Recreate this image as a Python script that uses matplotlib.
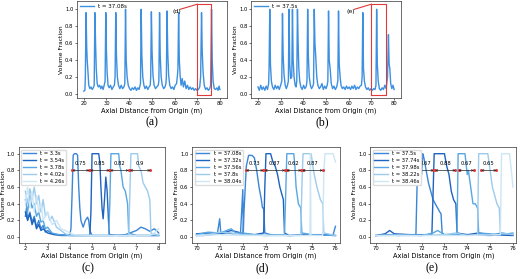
import matplotlib
matplotlib.use("Agg")
import matplotlib.pyplot as plt
import numpy as np

# ---------- top row: full pipe snapshots ----------
a_x = [20.0, 20.5, 20.7, 21.0, 21.3, 21.5, 21.8, 22.2, 22.7, 23.2, 23.7, 24.2,
       24.6, 24.9, 25.2, 25.5, 25.9, 26.4, 27.0, 27.5, 28.0, 28.5, 29.0,
       29.4, 29.7, 30.0, 30.3, 30.7, 31.2, 31.8, 32.4, 33.0, 33.5,
       33.8, 34.1, 34.4, 34.8, 35.3, 35.9, 36.5, 37.1, 37.7,
       38.1, 38.4, 38.7, 39.1, 39.6, 40.2, 40.8, 41.4, 42.0, 42.6, 43.2, 43.8, 44.4,
       45.0, 45.3, 45.6, 46.0, 46.5, 47.0, 47.6, 48.2, 48.8, 49.3,
       49.5, 49.8, 50.1, 50.5, 51.0, 51.6, 52.2, 52.8,
       53.1, 53.4, 53.7, 54.1, 54.6, 55.2, 55.8, 56.2,
       56.4, 56.7, 57.0, 57.4, 57.9, 58.5, 59.1, 59.7, 60.3, 60.9, 61.3,
       61.5, 61.8, 62.1, 62.5, 62.9, 63.4, 63.9, 64.5, 65.1, 65.7, 66.3, 66.9,
       67.5, 68.1, 68.7, 69.3, 69.9, 70.5, 71.1, 71.5,
       71.9, 72.2, 72.6, 73.1, 73.7, 74.3, 74.9, 75.5, 75.9,
       76.3, 76.6, 77.0, 77.5, 78.1, 78.7, 79.2, 79.6, 80.0]
a_y = [0.03, 0.04, 0.20, 0.96, 0.55, 0.40, 0.28, 0.10, 0.06, 0.08, 0.05, 0.07,
       0.10, 0.96, 0.60, 0.30, 0.12, 0.08, 0.10, 0.06, 0.09, 0.05, 0.10,
       0.15, 0.96, 0.50, 0.25, 0.10, 0.07, 0.10, 0.05, 0.08, 0.10,
       0.20, 0.96, 0.45, 0.20, 0.10, 0.06, 0.10, 0.06, 0.08,
       0.12, 1.00, 0.40, 0.20, 0.10, 0.06, 0.04, 0.07, 0.05, 0.08, 0.04, 0.07, 0.05,
       0.12, 1.00, 0.45, 0.20, 0.10, 0.06, 0.09, 0.05, 0.08, 0.10,
       0.20, 0.97, 0.50, 0.22, 0.10, 0.06, 0.08, 0.10,
       0.15, 0.96, 0.45, 0.20, 0.10, 0.06, 0.08, 0.12,
       0.20, 0.98, 0.50, 0.22, 0.10, 0.06, 0.08, 0.05, 0.10, 0.12, 0.22,
       0.30, 0.96, 0.40, 0.20, 0.10, 0.18, 0.08, 0.15, 0.06, 0.10, 0.05, 0.08,
       0.05, 0.07, 0.04, 0.06, 0.04, 0.05, 0.08, 0.20,
       0.96, 0.50, 0.25, 0.10, 0.05, 0.07, 0.04, 0.06, 0.10,
       1.00, 0.40, 0.15, 0.06, 0.05, 0.07, 0.04, 0.09, 0.05]

b_x = [20.0, 20.6, 21.2, 21.8, 22.4, 23.0, 23.6, 24.2, 24.7,
       24.9, 25.2, 25.5, 25.9, 26.4, 27.0, 27.6, 28.2, 28.8, 29.4, 30.0, 30.5,
       30.8, 31.1, 31.5, 32.0, 32.5, 33.0, 33.4,
       33.7, 34.0, 34.4, 34.9,
       35.2, 35.5, 35.9, 36.4, 36.8, 37.1,
       37.4, 37.7, 38.0, 38.4, 38.9, 39.5, 40.1, 40.7, 41.3, 41.6,
       41.9, 42.2, 42.6, 43.1, 43.6, 44.2, 44.5,
       44.8, 45.1, 45.5, 45.9, 46.4, 47.0, 47.6, 48.2, 48.8, 49.4, 50.0, 50.5, 50.8,
       51.1, 51.4, 51.8, 52.3, 52.9, 53.5, 54.1, 54.7, 55.2,
       55.5, 55.8, 56.2, 56.6, 57.2, 57.8, 58.4, 59.0, 59.6, 60.2, 60.8, 61.4,
       62.0, 62.6, 63.2, 63.8, 64.4, 65.0, 65.6, 65.9,
       66.2, 66.5, 66.9, 67.4, 68.0, 68.6, 69.2, 69.8, 70.4, 71.0, 71.6, 72.0,
       72.3, 72.6, 73.0, 73.5, 74.1, 74.7, 75.3, 75.9, 76.5, 77.1,
       77.5, 77.8, 78.1, 78.5, 79.0, 79.5, 80.0]
b_y = [0.08, 0.04, 0.10, 0.05, 0.08, 0.04, 0.09, 0.05, 0.12,
       0.30, 1.00, 0.35, 0.15, 0.08, 0.05, 0.10, 0.06, 0.09, 0.05, 0.10, 0.15,
       0.95, 0.45, 0.22, 0.10, 0.06, 0.10, 0.15,
       1.00, 0.35, 0.18, 0.20,
       1.00, 0.40, 0.20, 0.10, 0.08, 0.15,
       1.00, 0.60, 0.30, 0.15, 0.08, 0.05, 0.10, 0.06, 0.09, 0.15,
       1.00, 0.45, 0.20, 0.10, 0.06, 0.09, 0.12,
       1.00, 0.60, 0.42, 0.20, 0.10, 0.06, 0.08, 0.12, 0.05, 0.09, 0.06, 0.10, 0.15,
       0.98, 0.40, 0.30, 0.12, 0.06, 0.09, 0.05, 0.08, 0.15,
       0.98, 0.35, 0.20, 0.10, 0.06, 0.08, 0.05, 0.09, 0.06, 0.08, 0.05, 0.09,
       0.06, 0.10, 0.05, 0.08, 0.06, 0.09, 0.10, 0.20,
       0.96, 0.30, 0.15, 0.08, 0.05, 0.07, 0.04, 0.06, 0.04, 0.06, 0.05, 0.10,
       1.00, 0.35, 0.15, 0.06, 0.04, 0.07, 0.05, 0.10, 0.06, 0.20,
       0.70, 0.35, 0.30, 0.12, 0.06, 0.10, 0.05]

# ---------- panel (c) ----------
c_labels = ["t = 3.3s", "t = 3.54s", "t = 3.78s", "t = 4.02s", "t = 4.26s"]
c1_x = [2.0, 2.05, 2.1, 2.2, 2.3, 2.4, 2.5, 2.6, 2.7, 2.8, 2.9, 3.0, 3.2, 3.5, 3.8, 4.0,
        4.05, 4.1, 4.15, 4.2, 4.3, 4.35, 4.4, 4.45, 4.5, 4.6, 4.7, 4.8, 4.85, 4.9, 5.0,
        5.5, 6.0, 6.5, 6.8, 7.0, 7.2, 7.4, 7.6, 7.8, 7.9, 8.0]
c1_y = [0.25, 0.35, 0.22, 0.30, 0.18, 0.25, 0.12, 0.20, 0.10, 0.14, 0.06, 0.08, 0.04, 0.03, 0.03, 0.03,
        0.10, 0.50, 0.98, 1.00, 1.00, 0.98, 0.60, 0.35, 0.20, 0.12, 0.20, 0.24, 0.20, 0.08, 0.02,
        0.02, 0.02, 0.03, 0.06, 0.08, 0.12, 0.10, 0.07, 0.10, 0.08, 0.05]
c2_x = [2.0, 2.1, 2.2, 2.3, 2.4, 2.5, 2.6, 2.7, 2.8, 3.0, 3.3, 3.6, 4.0, 4.5, 4.9,
        4.95, 5.0, 5.3, 5.35, 5.4, 5.45, 5.5, 5.56, 5.62, 5.68, 5.74, 5.78, 6.2, 7.0, 8.0]
c2_y = [0.30, 0.20, 0.28, 0.15, 0.22, 0.10, 0.15, 0.08, 0.10, 0.05, 0.03, 0.02, 0.02, 0.02, 0.02,
        0.30, 1.00, 1.00, 0.90, 0.60, 0.35, 0.22, 0.45, 0.72, 0.55, 0.20, 0.03, 0.02, 0.02, 0.02]
c3_x = [2.0, 2.1, 2.2, 2.3, 2.4, 2.5, 2.6, 2.7, 2.8, 2.9, 3.0, 3.2, 3.5, 4.0, 5.0, 5.75,
        5.8, 5.85, 6.2, 6.25, 6.3, 6.4, 6.5, 6.6, 6.65, 7.0, 8.0]
c3_y = [0.45, 0.30, 0.50, 0.35, 0.40, 0.25, 0.30, 0.18, 0.20, 0.10, 0.12, 0.05, 0.03, 0.02, 0.02, 0.02,
        0.40, 1.00, 1.00, 0.85, 0.80, 0.60, 0.55, 0.40, 0.05, 0.02, 0.02]
c4_x = [2.0, 2.1, 2.2, 2.3, 2.4, 2.5, 2.6, 2.7, 2.8, 2.9, 3.0, 3.1, 3.2, 3.4, 3.6, 3.8, 4.0, 5.0, 6.65,
        6.7, 6.75, 7.05, 7.1, 7.2, 7.3, 7.4, 7.5, 7.6, 7.65, 8.0]
c4_y = [0.55, 0.40, 0.58, 0.45, 0.60, 0.40, 0.50, 0.30, 0.45, 0.25, 0.30, 0.20, 0.25, 0.12, 0.08, 0.04, 0.02, 0.02, 0.02,
        0.50, 1.00, 1.00, 0.85, 0.80, 0.65, 0.60, 0.55, 0.45, 0.05, 0.02]
c5_x = [2.0, 2.1, 2.2, 2.3, 2.4, 2.5, 2.6, 2.7, 2.8, 3.0, 3.2, 3.4, 3.6, 3.8, 4.0, 4.2, 5.0, 7.6, 7.8, 8.0]
c5_y = [0.40, 0.60, 0.35, 0.55, 0.30, 0.50, 0.30, 0.40, 0.20, 0.30, 0.15, 0.20, 0.10, 0.08, 0.05, 0.03, 0.02, 0.02, 0.05, 0.10]
c_starts = [4.12, 4.93, 5.83, 6.72]
c_ends = [4.87, 5.78, 6.65, 7.62]
c_lens = ["0.75", "0.85", "0.82", "0.9"]

# ---------- panel (d) ----------
d_labels = ["t = 37.08s", "t = 37.32s", "t = 37.56s", "t = 37.8s", "t = 38.04s"]
d1_x = [70.0, 70.3, 70.6, 70.9, 71.0, 71.05, 71.3, 71.6, 71.9, 72.0, 72.02, 72.05, 72.15, 72.25,
        72.4, 72.5, 72.6, 72.7, 72.8, 72.85, 72.9, 72.95, 73.2, 74.0, 75.0, 75.9, 76.0]
d1_y = [0.02, 0.02, 0.03, 0.04, 0.22, 0.04, 0.05, 0.04, 0.05, 0.57, 0.05, 0.30, 0.85, 0.98,
        0.98, 0.95, 0.80, 0.60, 0.45, 0.35, 0.35, 0.05, 0.03, 0.02, 0.03, 0.03, 0.13]
d2_x = [70.0, 70.5, 71.0, 71.5, 71.8, 72.0, 72.5, 72.9, 72.95, 73.0, 73.2, 73.3, 73.4, 73.5,
        73.6, 73.7, 73.75, 73.8, 74.0, 75.0, 76.0]
d2_y = [0.04, 0.05, 0.04, 0.08, 0.06, 0.04, 0.03, 0.05, 0.60, 1.00, 1.00, 0.90, 0.85, 0.75,
        0.60, 0.50, 0.45, 0.05, 0.02, 0.03, 0.02]
d3_x = [70.0, 70.5, 71.0, 71.5, 71.7, 72.0, 72.5, 73.0, 73.8, 73.85, 73.9, 74.2, 74.25, 74.3,
        74.4, 74.5, 74.55, 75.0, 76.0]
d3_y = [0.03, 0.06, 0.05, 0.10, 0.05, 0.05, 0.03, 0.02, 0.03, 0.50, 1.00, 1.00, 0.85, 0.60,
        0.40, 0.35, 0.05, 0.03, 0.02]
d4_x = [70.0, 70.5, 71.0, 71.5, 72.0, 73.0, 74.0, 74.5, 74.55, 74.6, 74.95, 75.05, 75.2, 75.35,
        75.45, 75.5, 76.0]
d4_y = [0.02, 0.03, 0.06, 0.05, 0.03, 0.02, 0.02, 0.02, 0.60, 1.00, 1.00, 0.80, 0.60, 0.45,
        0.40, 0.05, 0.02]
d5_x = [70.0, 71.0, 72.0, 73.0, 74.0, 74.9, 74.92, 74.94, 75.45, 75.5, 75.55, 75.9, 76.0]
d5_y = [0.02, 0.03, 0.02, 0.02, 0.02, 0.02, 1.00, 0.02, 0.02, 0.80, 1.00, 1.00, 0.90]
d_starts = [72.15, 72.95, 73.90, 74.58]
d_ends = [72.88, 73.82, 74.52, 75.45]
d_lens = ["0.73", "0.87", "0.62", "0.87"]

# ---------- panel (e) ----------
e_labels = ["t = 37.5s", "t = 37.74s", "t = 37.98s", "t = 38.22s", "t = 38.46s"]
e1_x = [70.0, 70.5, 71.0, 71.5, 71.75, 71.8, 71.85, 71.95, 72.0, 72.05, 72.1, 72.2, 72.3, 72.4,
        72.5, 72.6, 72.7, 72.8, 72.85, 72.9, 73.0, 74.0, 75.0, 75.5, 76.0]
e1_y = [0.02, 0.03, 0.02, 0.03, 0.03, 0.60, 1.00, 1.00, 0.75, 1.00, 0.95, 0.80, 0.65, 0.55,
        0.45, 0.40, 0.35, 0.30, 0.28, 0.05, 0.03, 0.03, 0.02, 0.05, 0.03]
e2_x = [70.0, 70.4, 70.6, 70.8, 71.5, 72.0, 72.45, 72.5, 72.55, 73.0, 73.1, 73.2, 73.3, 73.4,
        73.5, 73.55, 74.0, 74.5, 75.0, 76.0]
e2_y = [0.02, 0.04, 0.08, 0.04, 0.03, 0.03, 0.03, 0.50, 1.00, 1.00, 0.85, 0.75, 0.55, 0.45,
        0.40, 0.05, 0.03, 0.05, 0.03, 0.02]
e3_x = [70.0, 71.0, 72.0, 72.5, 72.7, 73.0, 73.55, 73.6, 73.9, 74.0, 74.05, 74.15, 74.25, 74.35,
        74.45, 74.5, 75.0, 75.5, 76.0]
e3_y = [0.02, 0.03, 0.02, 0.05, 0.08, 0.03, 0.03, 1.00, 1.00, 0.75, 0.80, 0.60, 0.40, 0.40,
        0.35, 0.05, 0.04, 0.03, 0.05]
e4_x = [70.0, 71.0, 72.0, 73.0, 73.5, 74.0, 74.45, 74.5, 74.9, 75.0, 75.1, 75.2, 75.3, 75.4,
        75.45, 76.0]
e4_y = [0.02, 0.02, 0.02, 0.03, 0.05, 0.02, 0.03, 1.00, 1.00, 0.80, 0.60, 0.50, 0.40, 0.35,
        0.05, 0.03]
e5_x = [70.0, 72.0, 74.0, 75.45, 75.5, 75.85, 75.95, 76.0]
e5_y = [0.02, 0.02, 0.02, 0.03, 1.00, 1.00, 0.75, 0.60]
e_starts = [71.85, 72.60, 73.62, 74.62]
e_ends = [72.52, 73.48, 74.29, 75.27]
e_lens = ["0.67", "0.88", "0.67", "0.65"]

shades = ["#3a86d8", "#1f63c0", "#58a6e2", "#9ccbed", "#cde6f6"]
top_blue = "#3d8fe0"
red = "#e03a3a"

plt.rcParams["font.family"] = "DejaVu Sans"
fig = plt.figure(figsize=(5.2, 2.79), dpi=100)


def style(ax, xlim, ylim):
    ax.set_xlim(*xlim)
    ax.set_ylim(*ylim)
    ax.tick_params(labelsize=3.8, length=1.5, width=0.4, pad=1)
    for s in ax.spines.values():
        s.set_linewidth(0.5)
        s.set_color("#333333")
    ax.set_xlabel("Axial Distance from Origin (m)", fontsize=4.8, labelpad=1)
    ax.set_ylabel("Volume Fraction", fontsize=4.3, labelpad=0.8)
    ax.set_yticks([0.0, 0.2, 0.4, 0.6, 0.8, 1.0])


def top_panel(rect, xs, ys, lab, tag, box_x, tag_x):
    ax = fig.add_axes(rect)
    ax.plot(xs, ys, color=top_blue, lw=1.0, label=lab)
    style(ax, (17, 83), (-0.05, 1.1))
    ax.set_xticks([20, 30, 40, 50, 60, 70, 80])
    ax.legend(loc="upper left", fontsize=4, frameon=False, handlelength=2.5,
              borderpad=0.2, borderaxespad=0.3)
    ax.plot([box_x[0], box_x[0], box_x[1], box_x[1], box_x[0]],
            [-0.02, 1.06, 1.06, -0.02, -0.02], color=red, lw=0.8)
    ax.text(tag_x, 0.97, tag, fontsize=4.5, ha="center", va="center")
    ax.plot([tag_x + 1.5, box_x[0]], [1.0, 1.06], color=red, lw=0.8)
    return ax


def bottom_panel(rect, series, labels, xlim, xticks, starts, ends, lens):
    ax = fig.add_axes(rect)
    for (xs, ys), lab, col in zip(series, labels, shades):
        ax.plot(xs, ys, color=col, lw=1.0, label=lab)
    style(ax, xlim, (-0.07, 1.08))
    ax.set_xticks(xticks)
    for s, e, t in zip(starts, ends, lens):
        ax.annotate("", xy=(e, 0.8), xytext=(s, 0.8),
                    arrowprops=dict(arrowstyle="<->", color="#222222", lw=0.5,
                                    mutation_scale=3, shrinkA=0, shrinkB=0))
        ax.plot([s, e], [0.8, 0.8], "o", color=red, ms=2.2, mew=0)
        ax.text((s + e) / 2, 0.855, t, fontsize=3.8, ha="center", va="bottom")
    ax.legend(loc="upper left", fontsize=3.8, handlelength=2.5, borderpad=0.3,
              labelspacing=0.35, framealpha=1, edgecolor="#dddddd")
    return ax


top_panel([0.148, 0.649, 0.288, 0.348], a_x, a_y, "t = 37.08s", "(d)", (70, 76), 61)
top_panel([0.483, 0.649, 0.288, 0.348], b_x, b_y, "t = 37.5s", "(e)", (70, 76.5), 61)

bottom_panel([0.036, 0.129, 0.282, 0.344],
             [(c1_x, c1_y), (c2_x, c2_y), (c3_x, c3_y), (c4_x, c4_y), (c5_x, c5_y)],
             c_labels, (1.7, 8.3), [2, 3, 4, 5, 6, 7, 8], c_starts, c_ends, c_lens)
bottom_panel([0.369, 0.129, 0.285, 0.344],
             [(d1_x, d1_y), (d2_x, d2_y), (d3_x, d3_y), (d4_x, d4_y), (d5_x, d5_y)],
             d_labels, (69.8, 76.2), [70, 71, 72, 73, 74, 75, 76], d_starts, d_ends, d_lens)
bottom_panel([0.712, 0.129, 0.281, 0.344],
             [(e1_x, e1_y), (e2_x, e2_y), (e3_x, e3_y), (e4_x, e4_y), (e5_x, e5_y)],
             e_labels, (69.75, 76.15), [70, 71, 72, 73, 74, 75, 76], e_starts, e_ends, e_lens)

for x, y, t in [(152, 122, "(a)"), (322, 122, "(b)"), (88, 268, "(c)"),
                (262, 268, "(d)"), (432, 268, "(e)")]:
    fig.text(x / 520, 1 - y / 279, t, fontsize=8.5, family="Liberation Serif",
             ha="center", va="center")

fig.savefig("out.png", dpi=100)
